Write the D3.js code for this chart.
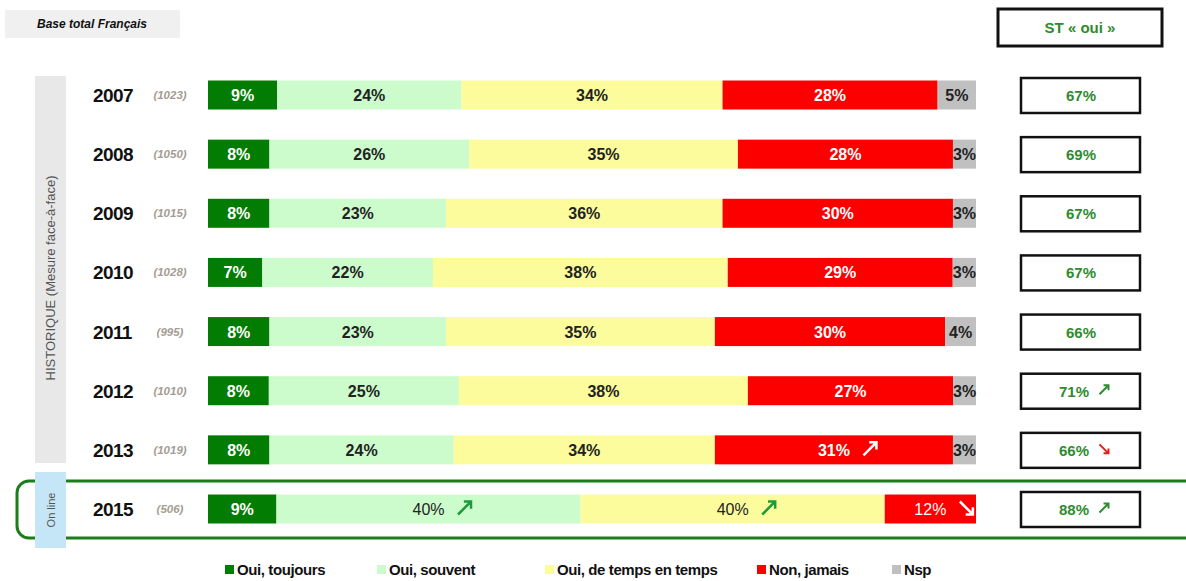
<!DOCTYPE html>
<html>
<head>
<meta charset="utf-8">
<script src="https://cdn.jsdelivr.net/npm/d3@7"></script>
<style>
  body { margin: 0; background: #fff; }
  svg { font-family: Arial, "Liberation Sans", sans-serif; }
</style>
</head>
<body>
<svg id="chart" width="1186" height="581"></svg>
<script>
// data
var years = ["2007", "2008", "2009", "2010", "2011", "2012", "2013", "2015"];
var bases = ["(1023)", "(1050)", "(1015)", "(1028)", "(995)", "(1010)", "(1019)", "(506)"];
var ouiToujours = [9, 8, 8, 7, 8, 8, 8, 9];
var ouiSouvent = [24, 26, 23, 22, 23, 25, 24, 40];
var ouiTemps = [34, 35, 36, 38, 35, 38, 34, 40];
var nonJamais = [28, 28, 30, 29, 30, 27, 31, 12];
var nsp = [5, 3, 3, 3, 4, 3, 3, 0];
var stOui = [67, 69, 67, 67, 66, 71, 66, 88];
var stTrend = ["", "", "", "", "", "up", "down", "up"];
// trend arrows on segments: [row, series index, direction]
var segTrends = [[6, 3, "up"], [7, 1, "up"], [7, 2, "up"], [7, 3, "down"]];

var seriesNames = ["Oui, toujours", "Oui, souvent", "Oui, de temps en temps", "Non, jamais", "Nsp"];
var seriesColors = ["#037c03", "#ccfccc", "#fcfc9c", "#fc0000", "#c0c0c0"];
var labelColors = ["#fff", "#222", "#222", "#fff", "#222"];

var svg = d3.select("#chart");

var y = d3.scalePoint().domain(years).range([95, 509]);
var barH = 29;
var x0 = 208, x1 = 976;

var rows = years.map(function(yr, i) {
  var vals = [ouiToujours[i], ouiSouvent[i], ouiTemps[i], nonJamais[i], nsp[i]];
  var total = d3.sum(vals);
  var x = d3.scaleLinear().domain([0, total]).range([x0, x1]);
  var acc = 0;
  var segs = vals.map(function(v, k) {
    var s = {row: i, k: k, v: v, start: acc, end: acc + v, x: x};
    acc += v;
    return s;
  });
  return {year: yr, i: i, segs: segs};
});

// header box
svg.append("rect").attr("x", 5).attr("y", 10).attr("width", 175).attr("height", 28).attr("fill", "#f0f0f0");
svg.append("text").attr("x", 92).attr("y", 28).attr("text-anchor", "middle")
  .attr("font-size", 12).attr("font-style", "italic").attr("font-weight", "bold")
  .attr("fill", "#111").text("Base total Français");

// ST oui header
svg.append("rect").attr("x", 998).attr("y", 9).attr("width", 164).attr("height", 37)
  .attr("fill", "#fff").attr("stroke", "#111").attr("stroke-width", 3);
svg.append("text").attr("x", 1080).attr("y", 33).attr("text-anchor", "middle")
  .attr("font-size", 15).attr("font-weight", "bold").attr("fill", "#2e8b2e").text("ST « oui »");

// side bands
svg.append("rect").attr("x", 35).attr("y", 76).attr("width", 31).attr("height", 387).attr("fill", "#e8e8e8");
svg.append("text").attr("transform", "translate(55," + 278 + ") rotate(-90)")
  .attr("text-anchor", "middle").attr("font-size", 13).attr("fill", "#555")
  .text("HISTORIQUE (Mesure face-à-face)");

// online frame
svg.append("rect").attr("x", 17).attr("y", 481).attr("width", 1180).attr("height", 57)
  .attr("rx", 12).attr("fill", "none").attr("stroke", "#1b7d1b").attr("stroke-width", 3);
svg.append("rect").attr("x", 35).attr("y", 472).attr("width", 31).attr("height", 76).attr("fill", "#c5e6f7");
svg.append("text").attr("transform", "translate(55," + 510 + ") rotate(-90)")
  .attr("text-anchor", "middle").attr("font-size", 11).attr("fill", "#555").text("On line");

// year labels
svg.selectAll(".year").data(rows).enter().append("text")
  .attr("x", 93).attr("y", function(d) { return y(d.year) + 7; })
  .attr("font-size", 19).attr("font-weight", "bold").attr("fill", "#111")
  .attr("letter-spacing", -0.6)
  .text(function(d) { return d.year; });
svg.selectAll(".base").data(rows).enter().append("text")
  .attr("x", 170).attr("y", function(d) { return y(d.year) + 4; })
  .attr("text-anchor", "middle")
  .attr("font-size", 11.5).attr("font-style", "italic").attr("font-weight", "bold").attr("fill", "#a39d93")
  .text(function(d, i) { return bases[i]; });

// bars
var rowG = svg.selectAll(".row").data(rows).enter().append("g")
  .attr("transform", function(d) { return "translate(0," + (y(d.year) - barH / 2) + ")"; });

rowG.selectAll("rect").data(function(d) { return d.segs.filter(function(s) { return s.v > 0; }); })
  .enter().append("rect")
  .attr("x", function(s) { return s.x(s.start); })
  .attr("y", 0)
  .attr("width", function(s) { return s.x(s.end) - s.x(s.start); })
  .attr("height", barH)
  .attr("fill", function(s) { return seriesColors[s.k]; });

rowG.selectAll("text").data(function(d) { return d.segs.filter(function(s) { return s.v > 0; }); })
  .enter().append("text")
  .attr("x", function(s) { return (s.x(s.start) + s.x(s.end)) / 2; })
  .attr("y", barH / 2 + 6)
  .attr("text-anchor", "middle")
  .attr("font-size", 16)
  .attr("font-weight", function(s) { return (s.row === 7 && s.k > 0) ? "normal" : "bold"; })
  .attr("fill", function(s) { return labelColors[s.k]; })
  .text(function(s) { return s.v + "%"; });

// arrows next to segment labels
function arrowPath(dir, cx, cy, size) {
  var h = size / 2;
  if (dir === "up") {
    return "M" + (cx - h) + "," + (cy + h) + "L" + (cx + h) + "," + (cy - h) +
      "M" + (cx - h * 0.1) + "," + (cy - h) + "L" + (cx + h) + "," + (cy - h) + "L" + (cx + h) + "," + (cy + h * 0.1);
  }
  return "M" + (cx - h) + "," + (cy - h) + "L" + (cx + h) + "," + (cy + h) +
    "M" + (cx + h) + "," + (cy - h * 0.1) + "L" + (cx + h) + "," + (cy + h) + "L" + (cx - h * 0.1) + "," + (cy + h);
}

segTrends.forEach(function(t) {
  var r = rows[t[0]], s = r.segs[t[1]];
  var cx = (s.x(s.start) + s.x(s.end)) / 2 + 36;
  var cy = y(r.year) - 1;
  svg.append("path").attr("d", arrowPath(t[2], cx, cy, 13))
    .attr("fill", "none")
    .attr("stroke", s.k === 3 ? "#fff" : "#1f9a3a")
    .attr("stroke-width", 2.5);
});

// ST oui boxes
var boxG = svg.selectAll(".box").data(rows).enter().append("g")
  .attr("transform", function(d) { return "translate(1021," + (y(d.year) - 17) + ")"; });
boxG.append("rect").attr("width", 119).attr("height", 35)
  .attr("fill", "#fff").attr("stroke", "#111").attr("stroke-width", 2.5);
boxG.append("text").attr("x", function(d, i) { return stTrend[i] ? 53 : 60; }).attr("y", 23)
  .attr("text-anchor", "middle").attr("font-size", 15).attr("font-weight", "bold").attr("fill", "#2e8b2e")
  .text(function(d, i) { return stOui[i] + "%"; });
boxG.filter(function(d, i) { return stTrend[i]; }).append("path")
  .attr("d", function(d) { return arrowPath(stTrend[d.i], 83, 16, 9); })
  .attr("fill", "none")
  .attr("stroke", function(d) { return stTrend[d.i] === "up" ? "#2e8b2e" : "#e0201a"; })
  .attr("stroke-width", 2);

// legend
var legendX = [225, 377, 545, 757, 892];
var leg = svg.selectAll(".leg").data(seriesNames).enter().append("g")
  .attr("transform", function(d, i) { return "translate(" + legendX[i] + ",570)"; });
leg.append("rect").attr("x", 0).attr("y", -5).attr("width", 9).attr("height", 9)
  .attr("fill", function(d, i) { return seriesColors[i]; });
leg.append("text").attr("x", 12).attr("y", 5)
  .attr("font-size", 15).attr("font-weight", "bold").attr("fill", "#111")
  .attr("letter-spacing", -0.4)
  .text(function(d) { return d; });
</script>
</body>
</html>
